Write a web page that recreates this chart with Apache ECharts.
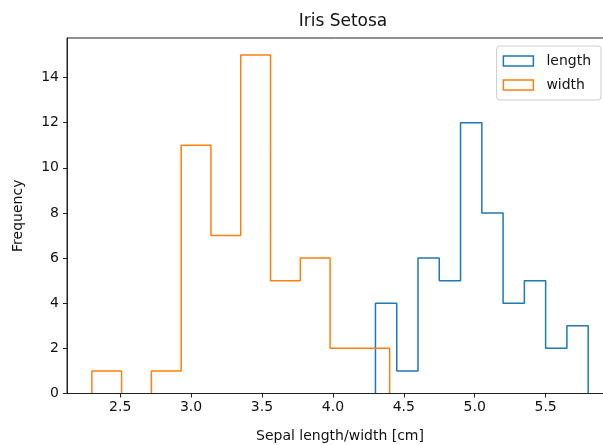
<!DOCTYPE html>
<html>
<head>
<meta charset="utf-8">
<script src="https://cdn.jsdelivr.net/npm/echarts@6/dist/echarts.min.js"></script>
<style>html,body{margin:0;padding:0;background:#fff;overflow:hidden}#c{width:603px;height:445px}</style>
</head>
<body>
<div id="c"></div>
<script>
// Sepal length (setosa): 10 bins
const lengthEdges = [4.3, 4.45, 4.6, 4.75, 4.9, 5.05, 5.2, 5.35, 5.5, 5.65, 5.8];
const lengthCounts = [4, 1, 6, 5, 12, 8, 4, 5, 2, 3];
// Sepal width (setosa): 10 bins
const widthEdges = [2.3, 2.51, 2.72, 2.93, 3.14, 3.35, 3.56, 3.77, 3.98, 4.19, 4.4];
const widthCounts = [1, 0, 1, 11, 7, 15, 5, 6, 2, 2];
const xTicks = [2.5, 3.0, 3.5, 4.0, 4.5, 5.0, 5.5];
const yTicks = [0, 2, 4, 6, 8, 10, 12, 14];

// Step outline; segments lying on the baseline are hidden under the axis spine
function stepOutline(edges, counts) {
  const pts = [[edges[0], 0]];
  for (let i = 0; i < counts.length; i++) {
    if (counts[i] === 0) {
      pts.push([edges[i], 0]);
      pts.push(null);
      pts.push([edges[i + 1], 0]);
      continue;
    }
    pts.push([edges[i], counts[i]]);
    pts.push([edges[i + 1], counts[i]]);
  }
  pts.push([edges[edges.length - 1], 0]);
  return pts;
}

const FONT = 'DejaVu Sans';
const chart = echarts.init(document.getElementById('c'), null, {renderer: 'canvas'});
chart.setOption({
  animation: false,
  backgroundColor: '#fff',
  textStyle: {fontFamily: FONT},
  title: {
    text: 'Iris Setosa',
    left: 338, top: 8, textAlign: 'center',
    textStyle: {fontFamily: FONT, fontSize: 17, fontWeight: 'normal', color: '#111'}
  },
  legend: {
    right: 2, top: 46,
    orient: 'vertical',
    itemWidth: 30, itemHeight: 10, itemGap: 10,
    padding: [8, 10, 8, 6],
    borderColor: '#ccc', borderWidth: 1, borderRadius: 3,
    backgroundColor: 'rgba(255,255,255,0.8)',
    textStyle: {fontFamily: FONT, fontSize: 14, color: '#111', padding: [0, 0, 0, 8]},
    data: [
      {name: 'length', icon: 'rect', itemStyle: {color: 'rgba(0,0,0,0)', borderColor: '#1f77b4', borderWidth: 1.5}},
      {name: 'width', icon: 'rect', itemStyle: {color: 'rgba(0,0,0,0)', borderColor: '#ff7f0e', borderWidth: 1.5}}
    ]
  },
  grid: {left: 67, width: 546, top: 38, height: 355.5, containLabel: false, outerBoundsMode: 'none',
    show: true, borderColor: '#222', borderWidth: 1, z: 6},
  xAxis: {
    type: 'value', min: 2.125, max: 5.975, z: 6,
    name: 'Sepal length/width [cm]', nameLocation: 'middle', nameGap: 36,
    nameTextStyle: {fontFamily: FONT, fontSize: 14, color: '#111'},
    axisLine: {lineStyle: {color: '#222'}},
    axisTick: {show: true, customValues: xTicks, length: 4, lineStyle: {color: '#222'}},
    axisLabel: {customValues: xTicks, fontFamily: FONT, fontSize: 14, color: '#111', margin: 7,
      formatter: v => v.toFixed(1)},
    splitLine: {show: false}
  },
  yAxis: {
    type: 'value', min: 0, max: 15.75, z: 6,
    name: 'Frequency', nameLocation: 'middle', nameGap: 42,
    nameTextStyle: {fontFamily: FONT, fontSize: 14, color: '#111'},
    axisLine: {show: true, lineStyle: {color: '#222'}},
    axisTick: {show: true, customValues: yTicks, length: 4, lineStyle: {color: '#222'}},
    axisLabel: {customValues: yTicks, fontFamily: FONT, fontSize: 14, color: '#111', margin: 8},
    splitLine: {show: false}
  },
  series: [
    {name: 'length', type: 'line', data: stepOutline(lengthEdges, lengthCounts), symbol: 'none',
      connectNulls: false,
      lineStyle: {color: '#1f77b4', width: 1.5}, itemStyle: {color: '#1f77b4'}, z: 2},
    {name: 'width', type: 'line', data: stepOutline(widthEdges, widthCounts), symbol: 'none',
      connectNulls: false,
      lineStyle: {color: '#ff7f0e', width: 1.5}, itemStyle: {color: '#ff7f0e'}, z: 3}
  ]
});
</script>
</body>
</html>
